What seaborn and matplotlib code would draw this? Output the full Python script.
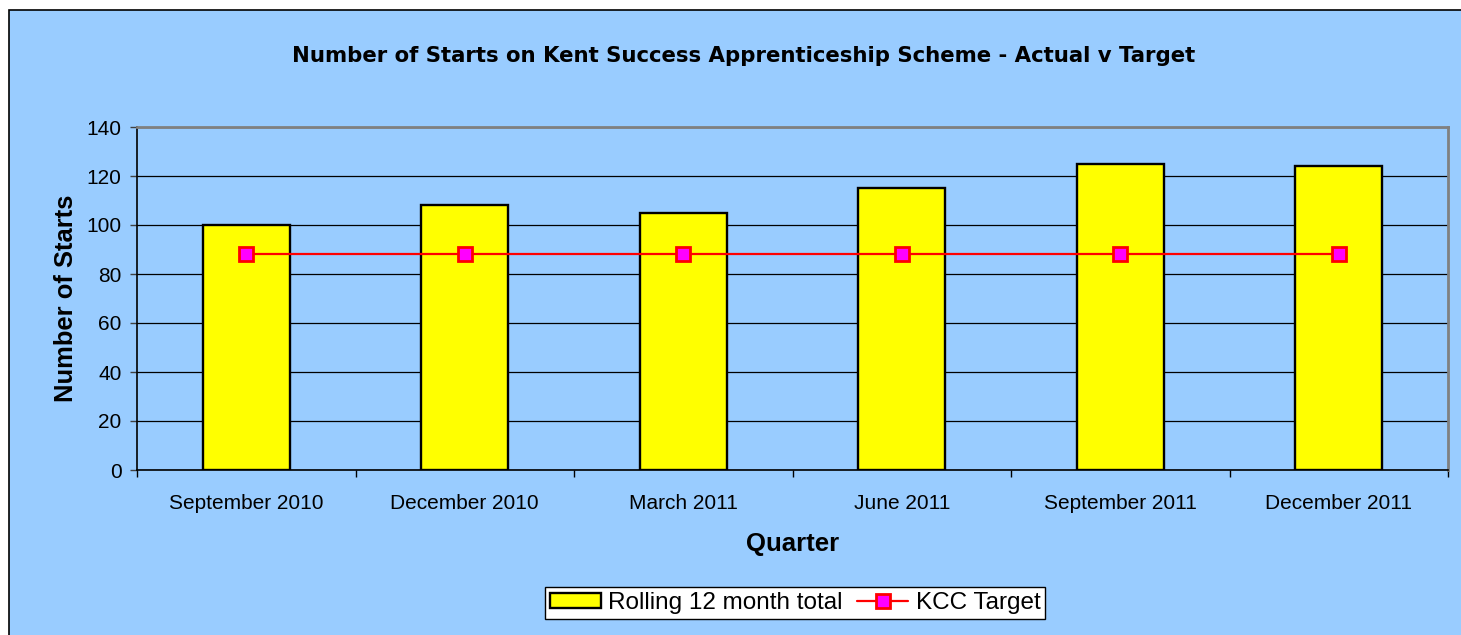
import numpy as np
import pandas as pd
import matplotlib
matplotlib.use('Agg')
import matplotlib.pyplot as plt
import seaborn as sns
from matplotlib.patches import Rectangle

quarters = ['September 2010', 'December 2010', 'March 2011', 'June 2011',
            'September 2011', 'December 2011']
rolling_total = [100, 108, 105, 115, 125, 124]
kcc_target = [88, 88, 88, 88, 88, 88]

df = pd.DataFrame({'Quarter': quarters, 'Rolling': rolling_total, 'Target': kcc_target})

sns.set_style('white')
plt.rcParams['font.family'] = ['Liberation Sans', 'DejaVu Sans']
plt.rcParams['text.color'] = 'black'
plt.rcParams['xtick.color'] = 'black'
plt.rcParams['ytick.color'] = 'black'
plt.rcParams['axes.labelcolor'] = 'black'

W, H = 1461, 635
fig = plt.figure(figsize=(W / 100, H / 100), dpi=100, facecolor='white')
# blue chart area, black border on left/top
fig.patches.append(Rectangle((9 / W, -0.01), 1.02 - 9 / W, 1.01 - 10 / H, transform=fig.transFigure,
                             facecolor='#99CCFF', edgecolor='black', linewidth=1.2, zorder=-10))

ax = fig.add_axes([137 / W, 1 - 470 / H, (1448 - 137) / W, (470 - 127) / H])
ax.set_facecolor('#99CCFF')

sns.barplot(data=df, x='Quarter', y='Rolling', color='yellow', width=0.4,
            edgecolor='black', linewidth=1.7, saturation=1, ax=ax,
            label='Rolling 12 month total', zorder=3)
ax.plot(range(len(quarters)), df['Target'], color='red', linewidth=1.6,
        marker='s', markersize=10, markerfacecolor='magenta', markeredgecolor='red',
        markeredgewidth=2, label='KCC Target', zorder=4)

ax.set_xlim(-0.5, len(quarters) - 0.5)
ax.set_ylim(0, 140)
ax.set_yticks(np.arange(0, 141, 20))
ax.yaxis.grid(True, color='black', linewidth=0.9, zorder=0)
ax.set_axisbelow(True)

ax.set_xticks(np.arange(-0.5, len(quarters), 1.0), minor=True)
ax.tick_params(axis='x', which='major', length=0, pad=17, labelsize=15)
ax.tick_params(axis='x', which='minor', length=5, width=1, color='black', direction='out')
ax.tick_params(axis='y', length=5, width=1, color='#404040', direction='out', labelsize=15, pad=6)
ax.xaxis.set_ticks_position('bottom')
ax.yaxis.set_ticks_position('left')

for side in ['top', 'right']:
    ax.spines[side].set_color('#808080')
    ax.spines[side].set_linewidth(2)
for side in ['left', 'bottom']:
    ax.spines[side].set_color('black')
    ax.spines[side].set_linewidth(1.2)

ax.set_xlabel('Quarter', fontsize=18.5, fontweight='bold', labelpad=14)
ax.set_ylabel('Number of Starts', fontsize=18.4, fontweight='bold', labelpad=6.5)

fig.text(744 / W, 1 - 56 / H, 'Number of Starts on Kent Success Apprenticeship Scheme - Actual v Target',
         ha='center', va='center', fontsize=15.3, fontweight='bold', family=['DejaVu Sans'])

handles, labels = ax.get_legend_handles_labels()
order = [labels.index('Rolling 12 month total'), labels.index('KCC Target')]
leg = ax.legend([handles[i] for i in order], [labels[i] for i in order],
                loc='center', bbox_to_anchor=(795 / W, 1 - 603 / H), bbox_transform=fig.transFigure,
                ncol=2, frameon=True, fancybox=False, framealpha=1, fontsize=17.5,
                handlelength=2.1, handleheight=0.6, columnspacing=0.6, handletextpad=0.3,
                borderpad=0.2, borderaxespad=0)
leg.get_frame().set_edgecolor('black')
leg.get_frame().set_facecolor('white')
leg.get_frame().set_linewidth(1)

fig.savefig('out.png', dpi=100, facecolor=fig.get_facecolor())
